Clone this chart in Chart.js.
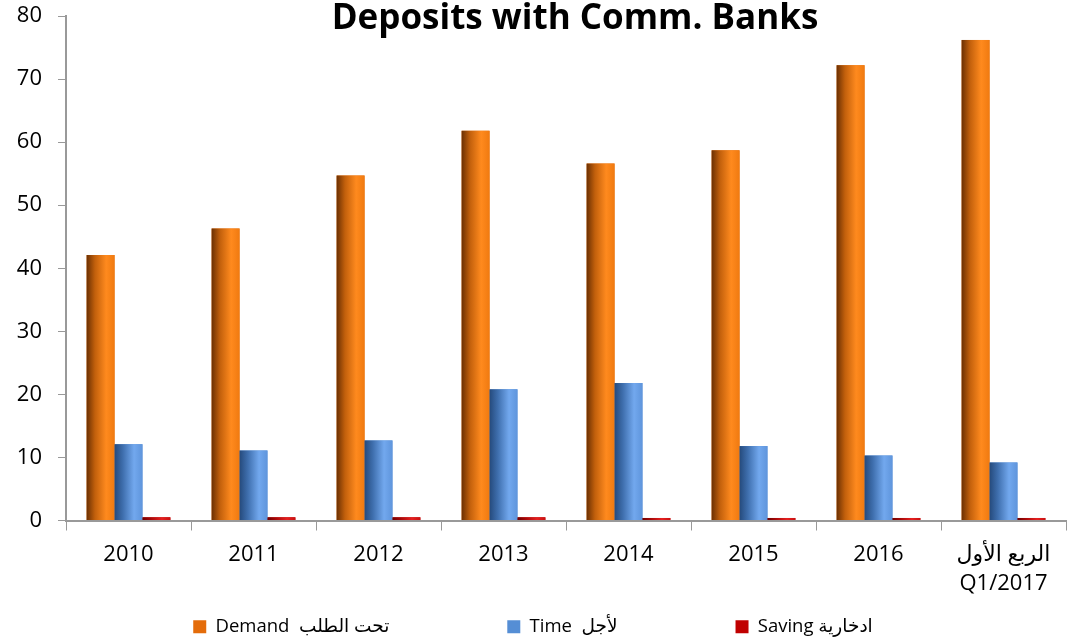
<!DOCTYPE html>
<html>
<head>
<meta charset="utf-8">
<script src="https://cdn.jsdelivr.net/npm/chart.js@4"></script>
<style>
  html, body { margin: 0; padding: 0; background: #fff; }
  #wrap { width: 1068px; height: 642px; }
</style>
</head>
<body>
<div id="wrap"><canvas id="GraficoDepositos"></canvas></div>
<script>
// data
var categorias = ['2010', '2011', '2012', '2013', '2014', '2015', '2016', ['الربع الأول', 'Q1/2017']];
var demanda = [42.1, 46.3, 54.7, 61.8, 56.6, 58.7, 72.2, 76.2];
var prazo = [12.1, 11.1, 12.7, 20.8, 21.8, 11.8, 10.3, 9.2];
var poupanca = [0.5, 0.5, 0.5, 0.5, 0.4, 0.4, 0.4, 0.4];
var rotulos = ['Demand  تحت الطلب', 'Time  لأجل', 'Saving ادخارية'];
var titulo = 'Deposits with Comm. Banks';

var fonte = "'Open Sans', 'DejaVu Sans', sans-serif";
var cores = ['#E46C0A', '#558ED5', '#C00000'];
// gradient stops: dark left -> bright -> a bit darker right edge
var gradientes = [
    ['#6b3003', '#c2600c', '#ff8a1e', '#f07a10'],
    ['#254a7c', '#3f6fae', '#72a8ee', '#5f95dc'],
    ['#6d0000', '#a80808', '#e52020', '#c81010']
];

// repaint every bar with a horizontal gradient (cylinder look)
var pinturaBarras = {
    id: 'pinturaBarras',
    afterDatasetsDraw: function (chart) {
        var ctx = chart.ctx;
        chart.data.datasets.forEach(function (ds, i) {
            var meta = chart.getDatasetMeta(i);
            meta.data.forEach(function (el) {
                var p = el.getProps(['x', 'y', 'base', 'width'], true);
                var x0 = p.x - p.width / 2;
                var g = ctx.createLinearGradient(x0, 0, x0 + p.width, 0);
                var st = gradientes[i];
                g.addColorStop(0, st[0]);
                g.addColorStop(0.3, st[1]);
                g.addColorStop(0.7, st[2]);
                g.addColorStop(1, st[3]);
                ctx.save();
                ctx.fillStyle = g;
                ctx.fillRect(x0, p.y, p.width, p.base - p.y);
                ctx.restore();
            });
        });
    }
};

var tituloPlugin = {
    id: 'tituloPlugin',
    afterDraw: function (chart) {
        var ctx = chart.ctx;
        ctx.save();
        ctx.font = "bold 35px " + fonte;
        ctx.fillStyle = '#000';
        ctx.textAlign = 'center';
        ctx.textBaseline = 'alphabetic';
        ctx.fillText(titulo, 575, 29);
        ctx.restore();
    }
};

var ctx = document.getElementById('GraficoDepositos').getContext('2d');
var grafico = new Chart(ctx, {
    type: 'bar',
    data: {
        labels: categorias,
        datasets: [
            { label: rotulos[0], data: demanda, backgroundColor: cores[0] },
            { label: rotulos[1], data: prazo, backgroundColor: cores[1] },
            { label: rotulos[2], data: poupanca, backgroundColor: cores[2] }
        ]
    },
    plugins: [pinturaBarras, tituloPlugin],
    options: {
        responsive: true,
        maintainAspectRatio: false,
        animation: false,
        layout: { padding: { top: 0, right: 2, left: 0, bottom: -4 } },
        datasets: { bar: { categoryPercentage: 0.67, barPercentage: 1.0 } },
        plugins: {
            title: { display: false },
            tooltip: { enabled: false },
            legend: {
                position: 'bottom',
                labels: {
                    font: { family: fonte, size: 18.5 },
                    color: '#000',
                    boxWidth: 13,
                    boxHeight: 13,
                    padding: 7,
                    generateLabels: function (chart) {
                        var itens = Chart.defaults.plugins.legend.labels.generateLabels(chart);
                        itens.forEach(function (it, i) {
                            if (i < itens.length - 1) it.text = it.text + '\u2003\u2003\u2003\u2003\u2003\u2003';
                        });
                        return itens;
                    }
                }
            }
        },
        scales: {
            x: {
                offset: true,
                grid: { display: true, drawOnChartArea: false, drawTicks: true, tickLength: 10, color: '#999', offset: true },
                border: { color: '#999', width: 2 },
                ticks: { font: { family: fonte, size: 22, lineHeight: 1.3 }, color: '#000', maxRotation: 0, padding: 10 },
                afterFit: function (s) { s.height = 90; }
            },
            y: {
                min: 0,
                max: 80,
                grid: { display: true, drawOnChartArea: false, drawTicks: true, tickLength: 8, color: '#999' },
                border: { color: '#999', width: 2 },
                ticks: { stepSize: 10, font: { family: fonte, size: 22 }, color: '#000', padding: 16 },
                afterFit: function (s) { s.width = 66; s.paddingTop = 16; }
            }
        }
    }
});
</script>
</body>
</html>
